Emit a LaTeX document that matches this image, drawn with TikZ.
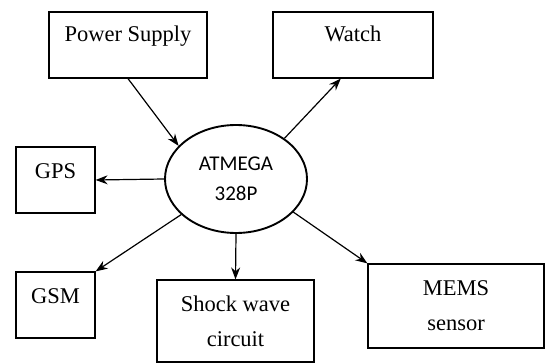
\documentclass[tikz,border=0pt]{standalone}
\usepackage{fontspec}
\setmainfont{Liberation Serif}
\newfontfamily\mcufont{Carlito}
\usepackage{tikz}
\usetikzlibrary{shapes.geometric,arrows.meta}

\begin{document}
\begin{tikzpicture}[x=1pt,y=-1pt,
  block/.style={draw,line width=1.2pt,align=center,inner sep=0pt,
    font=\fontsize{22.5}{35}\selectfont},
  mcu/.style={draw,ellipse,line width=1.9pt,align=center,inner sep=0pt,
    minimum width=142pt,minimum height=108pt,
    font=\mcufont\fontsize{21}{30}\selectfont},
  link/.style={line width=1.2pt,-{Stealth[length=12pt,width=9pt]}}]
  \useasboundingbox (0,0) rectangle (549,363);

  % Microcontroller
  \node[mcu] (atmega) at (236,179) {ATMEGA\\328P};

  % Top blocks
  \node[block,minimum width=158pt,minimum height=66pt,text depth=22pt] (power) at (128,45) {Power Supply};
  \node[block,minimum width=160pt,minimum height=66pt,text depth=22pt] (watch) at (353,45) {Watch};

  % Left blocks
  \node[block,minimum width=79pt,minimum height=66pt,text depth=18pt] (gps) at (55.5,180) {GPS};
  \node[block,minimum width=79pt,minimum height=66pt,text depth=18pt] (gsm) at (55.5,305) {GSM};

  % Bottom blocks
  \node[block,minimum width=157pt,minimum height=82pt] (shock) at (235.5,321) {Shock wave\\circuit};
  \node[block,minimum width=176pt,minimum height=84pt] (mems) at (456,306) {MEMS\\sensor};

  % Arrows
  \draw[link] (power.south) -- (atmega.150);
  \draw[link] (atmega.40) -- (watch.250);
  \draw[link] (atmega.west) -- (gps.east);
  \draw[link] (atmega.213) -- (gsm.north east);
  \draw[link] (atmega.south) -- (shock.north);
  \draw[link] (atmega.-30) -- (mems.north west);
\end{tikzpicture}
\end{document}
